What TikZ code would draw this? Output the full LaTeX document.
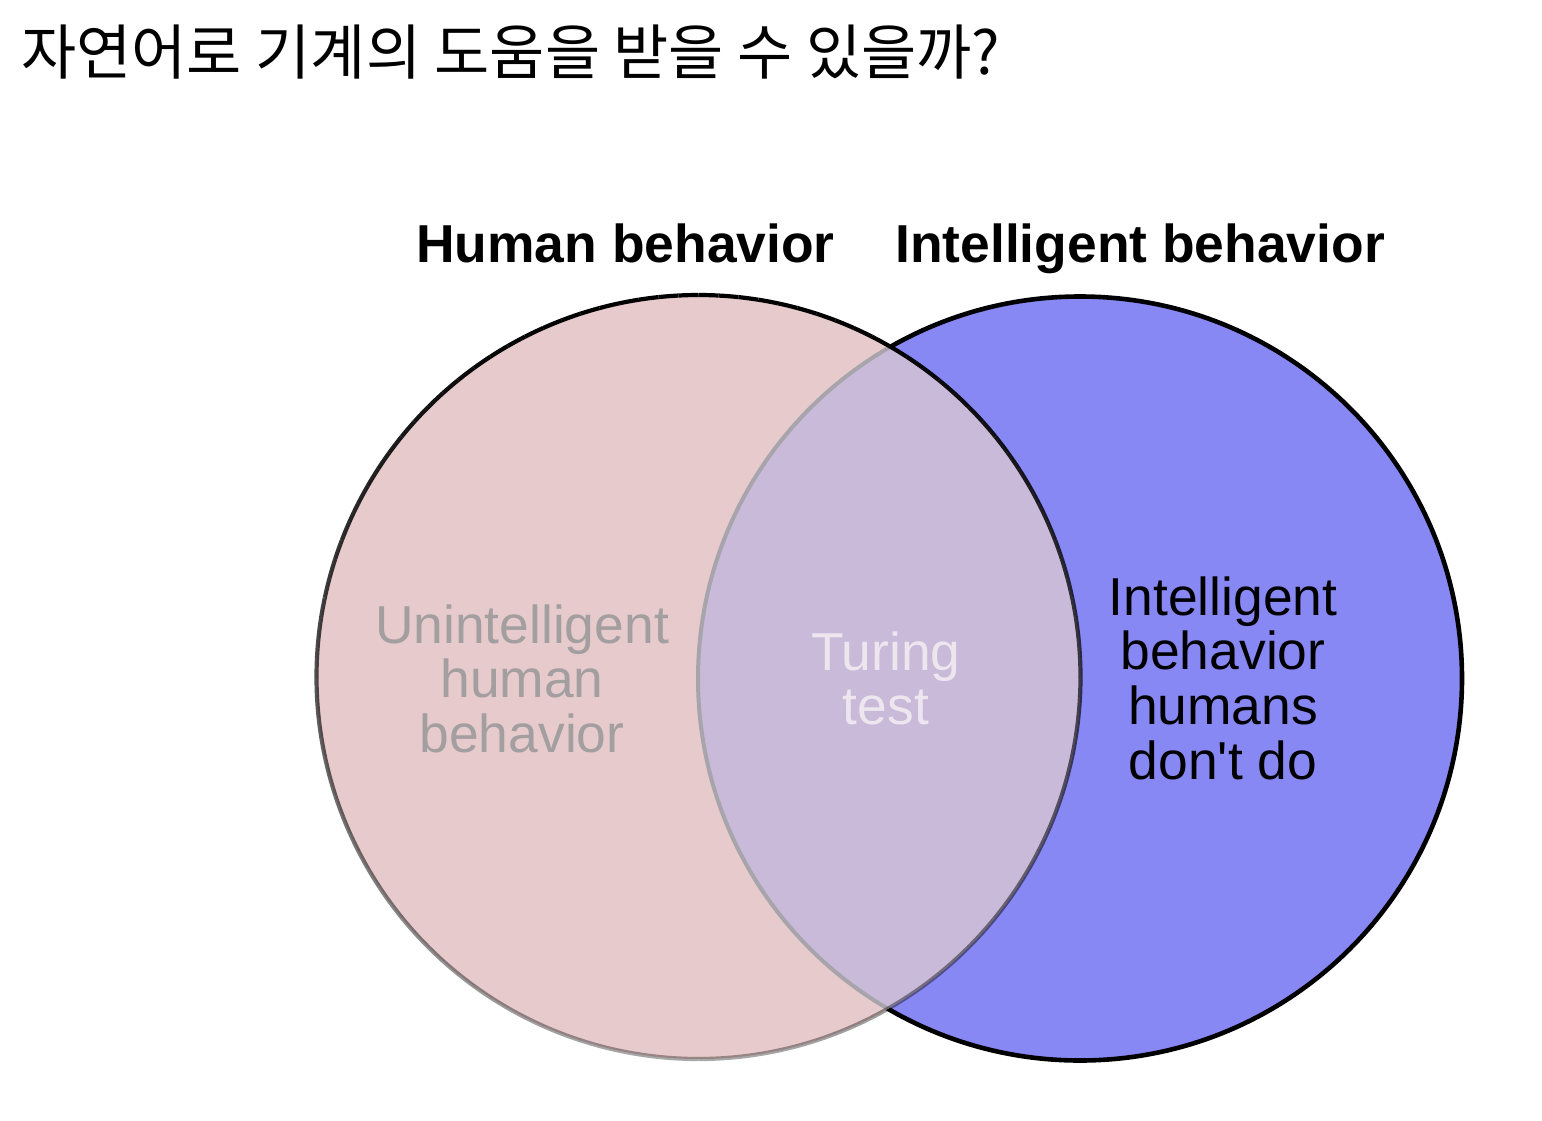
\documentclass[tikz,border=0pt]{standalone}
\usepackage{fontspec}
\newfontfamily\arial{Liberation Sans}
\newfontfamily\cjk{Noto Sans CJK KR}
\definecolor{humanfill}{HTML}{E6CACC}
\definecolor{intelfill}{HTML}{8888F4}
\definecolor{overlapfill}{HTML}{C8BAD8}
\definecolor{hiddenarc}{HTML}{A8A4AC}
\definecolor{dimtext}{HTML}{A39E9F}
\definecolor{palettext}{HTML}{EDE6EF}
\tikzset{
  label/.style={font=\arial\bfseries\fontsize{26.7}{27}\selectfont, anchor=base, inner sep=0pt},
  regiontext/.style={font=\arial\fontsize{26.7}{27}\selectfont, anchor=base, inner sep=0pt},
}
\newcommand{\stack}[1]{\begin{tabular}[t]{@{}c@{}}#1\end{tabular}}
\begin{document}
\begin{tikzpicture}[x=0.5pt,y=-0.5pt]
  \fill[white] (0,0) rectangle (1542,1120);
  \useasboundingbox (0,0) rectangle (1542,1120);

  % title
  \node[font=\cjk\fontsize{30}{32}\selectfont, anchor=base west, inner sep=0pt] (title) at (21,74)
    {자연어로 기계의 도움을 받을 수 있을까?};

  % circle centres
  \coordinate (L) at (698.5,677);
  \coordinate (R) at (1080,678.5);

  % right set: intelligent behavior
  \fill[intelfill] (R) circle[radius=191pt];
  \draw[line width=2.3pt, black] (R) circle[radius=191pt];

  % left set: human behavior
  \fill[humanfill] (L) circle[radius=191pt];
  \begin{scope}
    \clip (R) circle[radius=191pt];
    \fill[overlapfill] (L) circle[radius=191pt];
  \end{scope}
  \begin{scope}
    \clip (L) circle[radius=191pt];
    \draw[line width=2pt, hiddenarc] (R) circle[radius=191pt];
  \end{scope}

  % left outline fading from black at the top to grey at the bottom
  \foreach \a in {0,3,...,357} {
    \pgfmathsetmacro\op{0.68+0.34*sin(\a+1.5)}
    \draw[line width=2.1pt, black, draw opacity=\op]
      (L) ++(\a:191pt) arc[start angle=\a, end angle=\a+3, radius=191pt];
  }

  % set labels
  \node[label] (hlabel) at (625.5,262) {Human behavior};
  \node[label] (ilabel) at (1140,262) {Intelligent behavior};

  % region texts
  \node[regiontext, text=dimtext] (uhb) at (522,643) {\stack{Unintelligent\\human\\behavior}};
  \node[regiontext, text=palettext] (tt) at (886,670) {\stack{Turing\\test}};
  \node[regiontext, text=black] (ibh) at (1223,615) {\stack{Intelligent\\behavior\\humans\\don't do}};
\end{tikzpicture}
\end{document}
